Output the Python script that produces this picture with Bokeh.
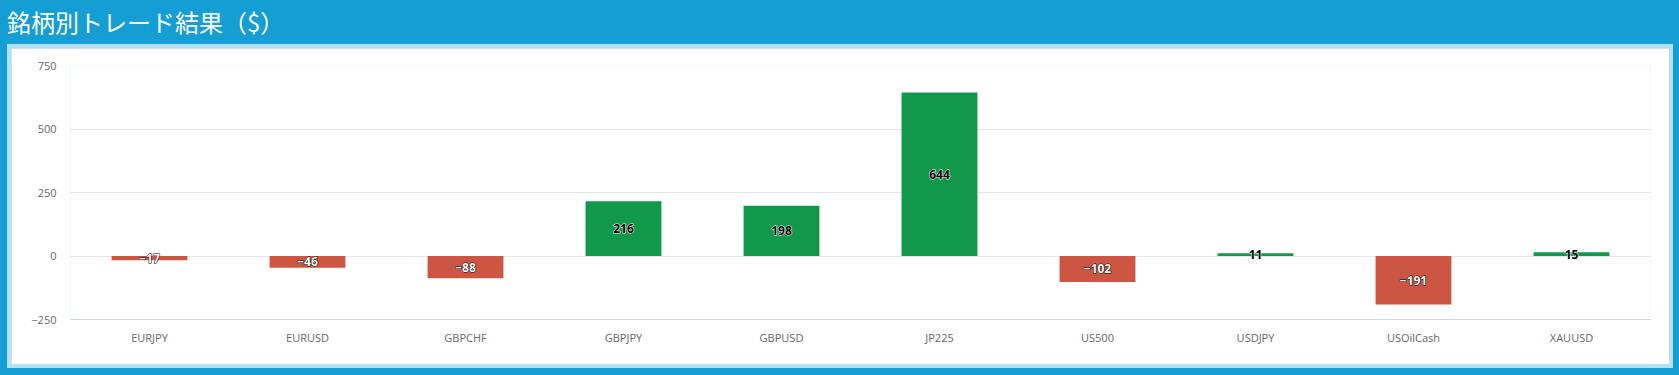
from bokeh.plotting import figure
from bokeh.layouts import column, row
from bokeh.models import ColumnDataSource, Div, Spacer, FixedTicker, CustomJSTickFormatter
from bokeh.embed import file_html
from bokeh.resources import INLINE
from bokeh.core.properties import value

title_text = "銘柄別トレード結果（$）"
symbols = ["EURJPY", "EURUSD", "GBPCHF", "GBPJPY", "GBPUSD", "JP225",
           "US500", "USDJPY", "USOilCash", "XAUUSD"]
profits = [-17, -46, -88, 216, 198, 644, -102, 11, -191, 15]
y_ticks = [-250, 0, 250, 500, 750]

GREEN = "#11984A"
RED = "#CD5643"
BLUE = "#159ED4"
LIGHT = "#B3E1F2"

colors = [GREEN if v >= 0 else RED for v in profits]
txt_colors = ["black" if v >= 0 else "white" for v in profits]
out_colors = ["white" if v >= 0 else "black" for v in profits]
labels = [str(v).replace("-", "\u2212") for v in profits]
mid = [v / 2 for v in profits]

src = ColumnDataSource(dict(x=symbols, top=profits, color=colors, label=labels,
                            mid=mid, tc=txt_colors, oc=out_colors))

p = figure(x_range=symbols, y_range=(-250, 750), width=1658, height=316,
           output_backend="svg", toolbar_location=None,
           min_border_left=59, min_border_right=19, min_border_top=17, min_border_bottom=45)
p.background_fill_color = "white"
p.border_fill_color = "white"
p.outline_line_color = None

p.vbar(x="x", top="top", bottom=0, width=0.48, fill_color="color", line_color=None, source=src)
# halo layer, then the fill layer on top
p.text(x="x", y="mid", text="label", text_color="oc", text_outline_color="oc",
       text_align="center", text_baseline="middle", text_font_size="12px",
       text_font_style="bold", text_font=value("Open Sans"), source=src)
p.text(x="x", y="mid", text="label", text_color="tc",
       text_align="center", text_baseline="middle", text_font_size="12px",
       text_font_style="bold", text_font=value("Open Sans"), source=src)

p.xgrid.grid_line_color = None
p.ygrid.grid_line_color = "#e6e6e6"
p.ygrid.ticker = FixedTicker(ticks=y_ticks)

p.yaxis.ticker = FixedTicker(ticks=y_ticks)
p.yaxis.formatter = CustomJSTickFormatter(code="return String(tick).replace('-', '\u2212');")
p.yaxis.axis_line_color = None
p.yaxis.major_tick_line_color = None
p.yaxis.minor_tick_line_color = None
p.yaxis.major_tick_out = 0
p.yaxis.major_label_standoff = 14
p.yaxis.major_label_text_font_size = "11px"
p.yaxis.major_label_text_color = "#666666"
p.yaxis.major_label_text_font = "Open Sans"

p.xaxis.axis_line_color = "#ccd6eb"
p.xaxis.major_tick_line_color = None
p.xaxis.minor_tick_line_color = None
p.xaxis.major_tick_out = 0
p.xaxis.major_label_standoff = 10
p.xaxis.major_label_text_font_size = "11px"
p.xaxis.major_label_text_color = "#666666"
p.xaxis.major_label_text_font = "Open Sans"

title = Div(text=f'<div style="margin:-3px 0 0 2px;line-height:32px;white-space:nowrap;">{title_text}</div>',
            width=1679, height=34,
            styles={"color": "white", "font-size": "24px",
                    "font-family": "Noto Sans CJK JP"})

panel = column(Spacer(width=1666, height=4),
               row(Spacer(width=4, height=316), p, Spacer(width=4, height=316), spacing=0),
               Spacer(width=1666, height=4),
               spacing=0, styles={"background-color": LIGHT})

layout = column(title,
                row(Spacer(width=7, height=324), panel, Spacer(width=6, height=324), spacing=0),
                Spacer(width=1679, height=10),
                spacing=0, styles={"background-color": BLUE})

html = file_html(layout, INLINE)
html = html.replace("<body>", f'<body style="background-color:{BLUE};">', 1)
open("out.html", "w").write(html)
